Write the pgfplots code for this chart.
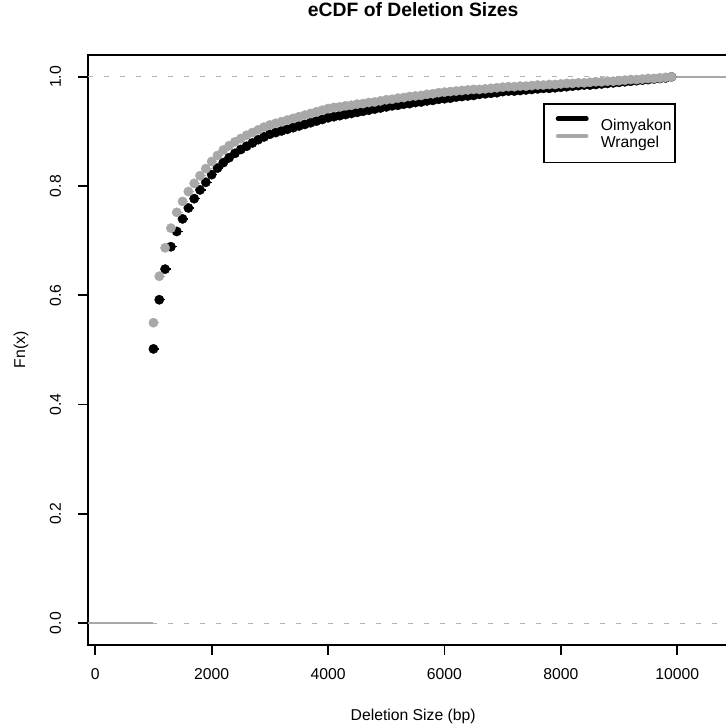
\documentclass[border=0pt]{standalone}
\usepackage{fontspec}
\setmainfont{Liberation Sans}
\usepackage{pgfplots}
\usepackage{pgfplotstable}
\pgfplotsset{compat=1.18}
\definecolor{wgrey}{gray}{0.66}
\definecolor{dashgrey}{gray}{0.7}

% ecdf knots (deletion size, Fn)
\pgfplotstableread{
x y
1000 0.502
1100 0.592
1200 0.648
1300 0.689
1400 0.717
1500 0.740
1600 0.760
1700 0.777
1800 0.793
1900 0.807
2000 0.821
2100 0.833
2200 0.843
2300 0.852
2400 0.860
2500 0.867
2600 0.873
2700 0.879
2800 0.885
2900 0.890
3000 0.895
3100 0.898
3200 0.901
3300 0.904
3400 0.907
3500 0.910
3600 0.913
3700 0.916
3800 0.919
3900 0.922
4000 0.925
4100 0.927
4200 0.929
4300 0.931
4400 0.933
4500 0.935
4600 0.937
4700 0.939
4800 0.941
4900 0.943
5000 0.945
5100 0.947
5200 0.948
5300 0.950
5400 0.951
5500 0.953
5600 0.954
5700 0.956
5800 0.957
5900 0.959
6000 0.960
6100 0.961
6200 0.963
6300 0.964
6400 0.965
6500 0.966
6600 0.968
6700 0.969
6800 0.970
6900 0.971
7000 0.973
7100 0.974
7200 0.974
7300 0.975
7400 0.976
7500 0.977
7600 0.978
7700 0.979
7800 0.979
7900 0.980
8000 0.981
8100 0.982
8200 0.983
8300 0.984
8400 0.985
8500 0.985
8600 0.986
8700 0.987
8800 0.988
8900 0.989
9000 0.990
9100 0.991
9200 0.992
9300 0.993
9400 0.994
9500 0.995
9600 0.996
9700 0.997
9800 0.998
9900 1.000
}\oim

\pgfplotstableread{
x y
1000 0.550
1100 0.635
1200 0.687
1300 0.723
1400 0.752
1500 0.772
1600 0.790
1700 0.805
1800 0.819
1900 0.832
2000 0.845
2100 0.856
2200 0.866
2300 0.874
2400 0.881
2500 0.887
2600 0.893
2700 0.898
2800 0.903
2900 0.908
3000 0.912
3100 0.915
3200 0.918
3300 0.921
3400 0.924
3500 0.927
3600 0.930
3700 0.933
3800 0.936
3900 0.939
4000 0.942
4100 0.944
4200 0.945
4300 0.947
4400 0.948
4500 0.950
4600 0.951
4700 0.953
4800 0.954
4900 0.956
5000 0.958
5100 0.959
5200 0.961
5300 0.962
5400 0.964
5500 0.965
5600 0.966
5700 0.968
5800 0.969
5900 0.971
6000 0.972
6100 0.973
6200 0.974
6300 0.975
6400 0.976
6500 0.977
6600 0.977
6700 0.978
6800 0.979
6900 0.980
7000 0.981
7100 0.982
7200 0.982
7300 0.983
7400 0.983
7500 0.984
7600 0.985
7700 0.985
7800 0.986
7900 0.986
8000 0.987
8100 0.988
8200 0.988
8300 0.989
8400 0.989
8500 0.990
8600 0.991
8700 0.991
8800 0.992
8900 0.992
9000 0.993
9100 0.994
9200 0.995
9300 0.995
9400 0.996
9500 0.997
9600 0.997
9700 0.998
9800 0.999
9900 1.000
}\wra

\begin{document}
\begin{tikzpicture}
% 1px = 0.75pt; axis box lower left at image pixel (87.8,645)
\useasboundingbox (-65.85pt,-60pt) rectangle (478.65pt,483.75pt);
\begin{axis}[
  at={(0,0)}, anchor=south west,
  scale only axis, width=488.1pt, height=442.5pt,
  xmin=-128, xmax=11053, ymin=-0.04, ymax=1.04,
  axis line style={line width=1.3pt},
  tick pos=left, tick align=outside, major tick length=7.2pt,
  tick style={line width=1.3pt, black},
  scaled x ticks=false, scaled y ticks=false,
  xtick={0,2000,4000,6000,8000,10000},
  xticklabels={0,2000,4000,6000,8000,10000},
  ytick={0,0.2,0.4,0.6,0.8,1},
  yticklabels={\rotatebox{90}{0.0},\rotatebox{90}{0.2},\rotatebox{90}{0.4},
    \rotatebox{90}{0.6},\rotatebox{90}{0.8},\rotatebox{90}{1.0}},
  /pgf/number format/assume math mode=true,
  tick label style={font=\fontsize{11.8}{14}\selectfont},
  xticklabel shift=7.2pt,
  yticklabel style={anchor=east, inner sep=0pt, xshift=-12.6pt},
  title={eCDF of Deletion Sizes},
  title style={at={(0.5,1.0627)}, anchor=center, font=\bfseries\fontsize{14.5}{17}\selectfont},
  xlabel={Deletion Size (bp)},
  xlabel style={at={(0.5,-0.1203)}, anchor=center, font=\fontsize{11.8}{14}\selectfont},
  ylabel={Fn(x)},
  ylabel style={at={(-0.1026,0.5)}, anchor=center, font=\fontsize{11.8}{14}\selectfont},
  legend style={at={(0.6995,0.9186)}, anchor=north west, draw=black, line width=1.2pt,
    inner xsep=2.5pt, inner ysep=9pt, row sep=0pt,
    font=\fontsize{11.8}{14}\selectfont,
    nodes={inner sep=0pt, text height=10.75pt, text depth=2.25pt}},
  legend cell align=left,
  legend image code/.code={\path (0pt,4.25pt) (36.75pt,4.25pt);
    \draw[#1] (6.4pt,4.25pt) -- (27.65pt,4.25pt);},
]
\addlegendimage{black, line width=3.5pt, line cap=round}
\addlegendentry{Oimyakon}
\addlegendimage{wgrey, line width=3.2pt, line cap=round}
\addlegendentry{Wrangel}

% reference lines at 0 and 1
\addplot[dashgrey, line width=0.75pt, dash pattern=on 3.75pt off 8.25pt, forget plot]
  coordinates {(-128,0)(11053,0)};
\addplot[dashgrey, line width=0.75pt, dash pattern=on 3.75pt off 8.25pt, forget plot]
  coordinates {(-128,1)(11053,1)};

% Oimyakon
\addplot[black, line width=1pt, forget plot] coordinates {(-128,0)(1000,0)};
\addplot[black, line width=1pt, jump mark left, mark=*, mark size=3.5pt,
  mark options={solid, line width=0.3pt}, forget plot] table {\oim};
\addplot[black, line width=1pt, forget plot] coordinates {(9900,1)(11053,1)};

% Wrangel
\addplot[wgrey, line width=1pt, forget plot] coordinates {(-128,0)(1000,0)};
\addplot[wgrey, line width=1pt, jump mark left, mark=*, mark size=3.5pt,
  mark options={solid, line width=0.3pt}, forget plot] table {\wra};
\addplot[wgrey, line width=1pt, forget plot] coordinates {(9900,1)(11053,1)};
\end{axis}
\end{tikzpicture}
\end{document}
